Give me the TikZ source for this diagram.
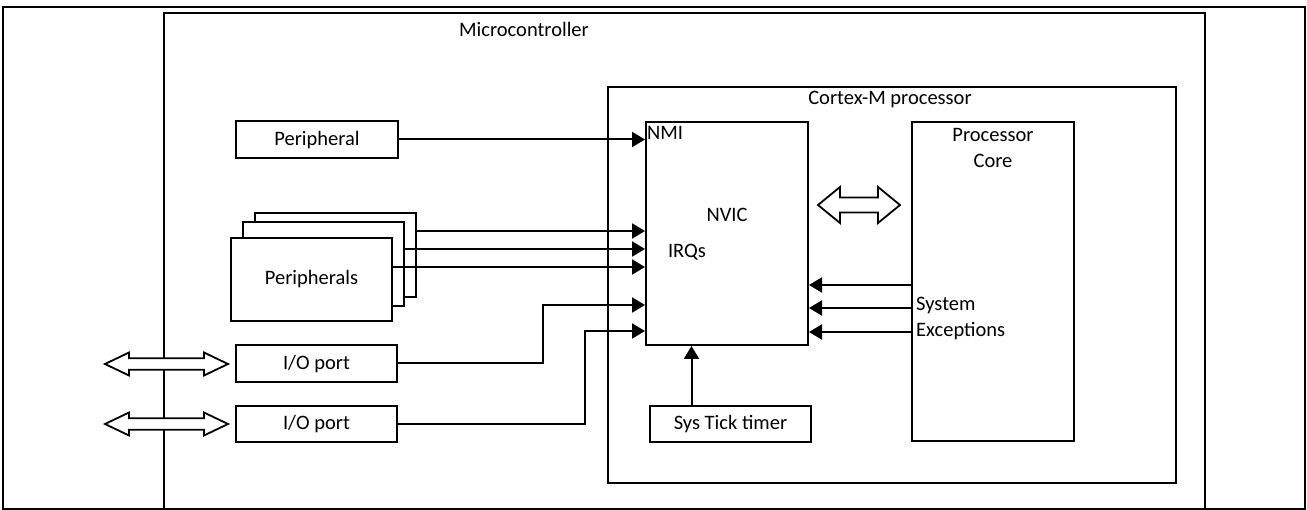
\documentclass[tikz,border=0pt]{standalone}
\usepackage{fontspec}
\setmainfont{Carlito}
\usetikzlibrary{arrows.meta}
\begin{document}
\begin{tikzpicture}[x=1pt,y=-1pt,
  box/.style={draw=black, line width=2pt, fill=white, inner sep=0pt},
  lbl/.style={inner sep=0pt, font=\fontsize{20.5}{24}\selectfont},
  arr/.style={line width=2pt, -{Triangle[length=13pt,width=15pt]}},
  hollow/.style={draw=black, line width=1.8pt, fill=white, line join=miter}]
\useasboundingbox (0,0) rectangle (1307,510);
% frames
\node[box, minimum width=1302, minimum height=502] (outer) at (654,258) {};
\node[box, minimum width=1041, minimum height=496] (micro) at (684.5,261) {};
\node[lbl] (microlbl) at (524,29) {Microcontroller};
\node[box, minimum width=568, minimum height=396] (cortex) at (892,285) {};
\node[lbl] (cortexlbl) at (890,100) {Cortex-M processor};
% NVIC and core
\node[box, minimum width=162, minimum height=223] (nvic) at (727,233.5) {};
\node[lbl, anchor=west] (nmi) at (647,133) {NMI};
\node[lbl] (nviclbl) at (727,215) {NVIC};
\node[lbl] (irqs) at (687,252) {IRQs};
\node[box, minimum width=162, minimum height=319] (core) at (993,281.5) {};
\node[lbl] (proc) at (993,135) {Processor};
\node[lbl] (corelbl) at (993,161) {Core};
\node[lbl, anchor=west] (sys) at (916,306) {System};
\node[lbl, anchor=west] (exc) at (916,331) {Exceptions};
% peripherals
\node[box, minimum width=162, minimum height=37] (periph) at (317,139.5) {};
\node[lbl] (periphlbl) at (317,140) {Peripheral};
\node[box, minimum width=161, minimum height=84] (back) at (335.5,255) {};
\node[box, minimum width=161, minimum height=84] (mid) at (323.5,264) {};
\node[box, minimum width=161, minimum height=83] (front) at (311.5,279.5) {};
\node[lbl] (frontlbl) at (311.5,279) {Peripherals};
\node[box, minimum width=161, minimum height=37] (io1) at (316.5,363.5) {};
\node[lbl] (io1lbl) at (316.5,364) {I/O port};
\node[box, minimum width=161, minimum height=36] (io2) at (316.5,424) {};
\node[lbl] (io2lbl) at (316.5,424.5) {I/O port};
\node[box, minimum width=161, minimum height=36] (systick) at (730.5,424) {};
\node[lbl] (systicklbl) at (730.5,424.5) {Sys Tick timer};
% input points
\path (nvic.north west) ++(0,110) coordinate (in1);
\path (nvic.north west) ++(0,128) coordinate (in2);
\path (nvic.north west) ++(0,146) coordinate (in3);
\path (nvic.north west) ++(0,184) coordinate (in4);
\path (nvic.north west) ++(0,210) coordinate (in5);
\path (core.north west) ++(0,164) coordinate (e1);
\path (core.north west) ++(0,187) coordinate (e2);
\path (core.north west) ++(0,211) coordinate (e3);
\path (systick.north) ++(-39,0) coordinate (st);
% connectors
\draw[arr] (periph.east) -- (periph.east -| nvic.west);
\draw[arr] (back.east |- in1) -- (in1);
\draw[arr] (mid.east |- in2) -- (in2);
\draw[arr] (front.east |- in3) -- (in3);
\draw[arr] (io1.east) -- ++(145,0) |- (in4);
\draw[arr] (io2.east) -- ++(187,0) |- (in5);
\draw[arr] (st) -- (st |- nvic.south);
\draw[arr] (e1) -- (e1 -| nvic.east);
\draw[arr] (e2) -- (e2 -| nvic.east);
\draw[arr] (e3) -- (e3 -| nvic.east);
% hollow double arrows
\draw[hollow] (818,205) -- (840,187) -- (840,197.5) -- (878,197.5) -- (878,187) -- (900,205)
  -- (878,223) -- (878,212.5) -- (840,212.5) -- (840,223) -- cycle;
\foreach \yc in {364,424}{
\draw[hollow] (105,\yc) -- (129,\yc-11.5) -- (129,\yc-5.8) -- (204,\yc-5.8) -- (204,\yc-11.5) -- (228,\yc)
  -- (204,\yc+11.5) -- (204,\yc+5.8) -- (129,\yc+5.8) -- (129,\yc+11.5) -- cycle;
}
\end{tikzpicture}
\end{document}
